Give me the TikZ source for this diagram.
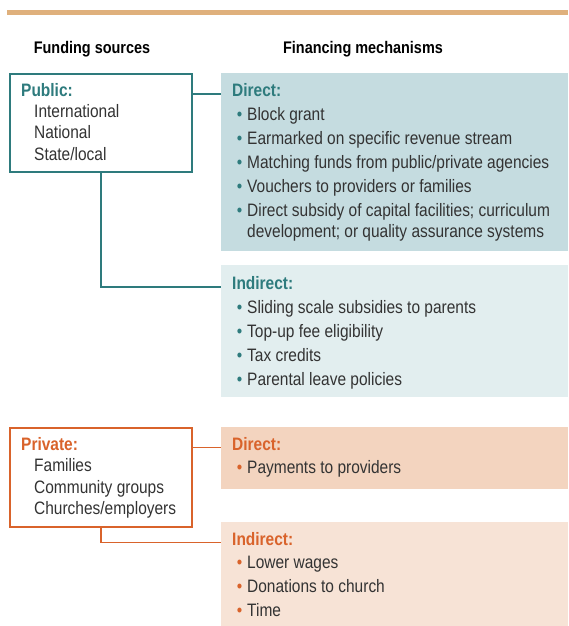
\documentclass[tikz,border=0pt]{standalone}
\usepackage{fontspec}
\setmainfont{Liberation Sans}[FakeStretch=0.86]
\usepackage{xcolor}
\usepackage{tikz}
\usetikzlibrary{positioning,calc}

\definecolor{tealline}{HTML}{2E7B7D}
\definecolor{tealdark}{HTML}{C5DCE0}
\definecolor{teallight}{HTML}{E2EEEF}
\definecolor{orangeline}{HTML}{D9632B}
\definecolor{orangedark}{HTML}{F3D4BF}
\definecolor{orangelight}{HTML}{F7E3D6}
\definecolor{rulecolor}{HTML}{DFB07C}
\definecolor{textgray}{HTML}{333333}

\newcommand{\tbul}{\llap{\textcolor{tealline}{\textbullet}\hspace{5pt}}}
\newcommand{\obul}{\llap{\textcolor{orangeline}{\textbullet}\hspace{5pt}}}

\tikzset{
  txt/.style={anchor=base west, inner sep=0pt, text=textgray, font=\fontsize{18}{20}\selectfont},
  head/.style={txt, font=\fontsize{18}{20}\selectfont\bfseries},
  colhead/.style={txt, anchor=base, font=\fontsize{16.8}{20}\selectfont\bfseries, text=black},
  srcbox/.style={draw, line width=1.5pt, fill=white, anchor=north west, inner sep=0pt, minimum width=182pt},
  mechbox/.style={anchor=north west, inner sep=0pt, minimum width=347pt},
  link/.style={line width=1.5pt},
}

\begin{document}
\begin{tikzpicture}[x=1pt, y=-1pt]
  \useasboundingbox (0,0) rectangle (568,626);
  \draw[rulecolor, line width=5pt] (7,12.5) -- (568,12.5);

  % column headings
  \node[colhead] (srchd) at (92,53) {Funding sources};
  \node[colhead] (mechhd) at (363,53) {Financing mechanisms};

  % boxes
  \node[srcbox, draw=tealline, minimum height=98pt] (pub) at (9,73) {};
  \node[mechbox, fill=tealdark, minimum height=178pt] (pubdir) at (221,73) {};
  \node[mechbox, fill=teallight, minimum height=132pt] (pubind) at (221,265) {};
  \node[srcbox, draw=orangeline, minimum height=99pt] (priv) at (9,427) {};
  \node[mechbox, fill=orangedark, minimum height=62pt] (privdir) at (221,427) {};
  \node[mechbox, fill=orangelight, minimum height=104pt] (privind) at (221,522) {};

  % public sources
  \node[head, text=tealline] (pubhd) at (21,96) {Public:};
  \node[txt] (pub1) at (34,117) {International};
  \node[txt] (pub2) at (34,138.5) {National};
  \node[txt] (pub3) at (34,160) {State/local};

  % public direct
  \node[head, text=tealline] (pdhd) at (232,96.5) {Direct:};
  \node[txt] (pd1) at (247,120) {\tbul Block grant};
  \node[txt] (pd2) at (247,144) {\tbul Earmarked on specific revenue stream};
  \node[txt] (pd3) at (247,168) {\tbul Matching funds from public/private agencies};
  \node[txt] (pd4) at (247,192) {\tbul Vouchers to providers or families};
  \node[txt] (pd5) at (247,216.5) {\tbul Direct subsidy of capital facilities; curriculum};
  \node[txt] (pd6) at (247,237.5) {development; or quality assurance systems};

  % public indirect
  \node[head, text=tealline] (pihd) at (232,289.5) {Indirect:};
  \node[txt] (pi1) at (247,313) {\tbul Sliding scale subsidies to parents};
  \node[txt] (pi2) at (247,337) {\tbul Top-up fee eligibility};
  \node[txt] (pi3) at (247,361) {\tbul Tax credits};
  \node[txt] (pi4) at (247,385) {\tbul Parental leave policies};

  % private sources
  \node[head, text=orangeline] (privhd) at (21,450) {Private:};
  \node[txt] (priv1) at (34,471) {Families};
  \node[txt] (priv2) at (34,493) {Community groups};
  \node[txt] (priv3) at (34,514.5) {Churches/employers};

  % private direct
  \node[head, text=orangeline] (rdhd) at (232,450) {Direct:};
  \node[txt] (rd1) at (247,473) {\obul Payments to providers};

  % private indirect
  \node[head, text=orangeline] (rihd) at (232,545) {Indirect:};
  \node[txt] (ri1) at (247,568) {\obul Lower wages};
  \node[txt] (ri2) at (247,592) {\obul Donations to church};
  \node[txt] (ri3) at (247,616) {\obul Time};

  % connectors
  \draw[link, tealline] (pdhd.mid -| pub.east) -- (pdhd.mid -| pubdir.west);
  \draw[link, tealline] (pub.south) |- (pihd.mid -| pubind.west);
  \draw[link, orangeline] (rdhd.mid -| priv.east) -- (rdhd.mid -| privdir.west);
  \draw[link, orangeline] (priv.south) |- (rihd.mid -| privind.west);
\end{tikzpicture}
\end{document}
